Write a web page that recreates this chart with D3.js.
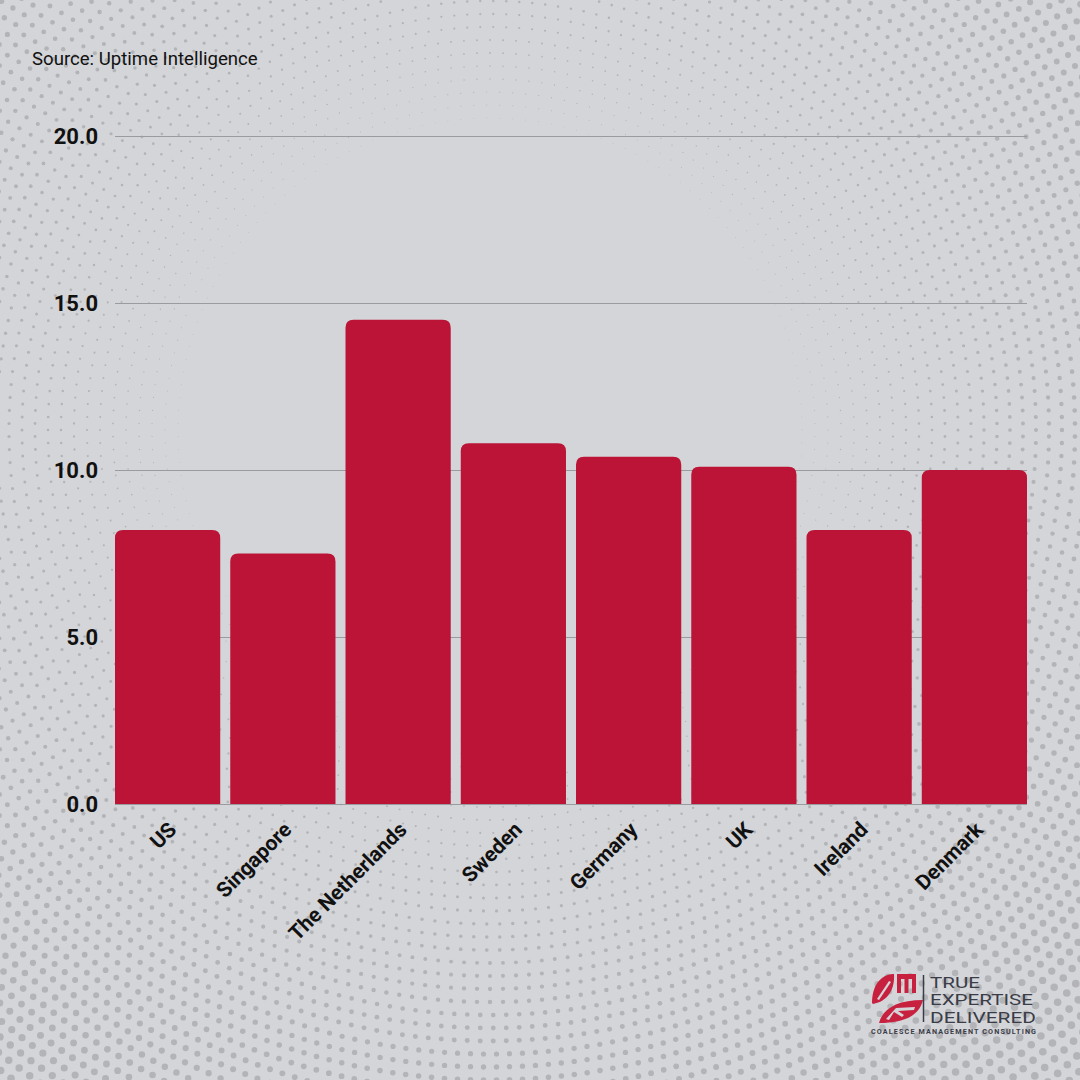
<!DOCTYPE html>
<html>
<head>
<meta charset="utf-8">
<script src="https://cdn.jsdelivr.net/npm/d3@7"></script>
<style>
  body { margin: 0; background: #d4d5d8; }
  text { font-family: Roboto, "Noto Sans", sans-serif; }
</style>
</head>
<body>
<div id="main"></div>
<script>
// data
var countries = ["US", "Singapore", "The Netherlands", "Sweden", "Germany", "UK", "Ireland", "Denmark"];
var values = [8.2, 7.5, 14.5, 10.8, 10.4, 10.1, 8.2, 10.0];
var yTicks = [0, 5, 10, 15, 20];

// dimensions
var svg_width = 1080,
    svg_height = 1080;
var plot = {left: 115, right: 1027, top: 136, bottom: 804};

var svg = d3.select("#main").append("svg")
    .attr("width", svg_width)
    .attr("height", svg_height);

svg.append("rect")
    .attr("width", svg_width).attr("height", svg_height)
    .attr("fill", "#d4d5d8");

/** halftone background: rings of dots growing toward the corners **/
var bg = svg.append("g").attr("fill", "#b3b4b7");
var cx = 490, cy = 430, step = 13;
for (var i = 1; i * step < 950; i++) {
    var R = i * step;
    var n = Math.round(2 * Math.PI * R / step);
    var off = (i % 2) * 0.5;
    for (var k = 0; k < n; k++) {
        var a = (k + off) / n * 2 * Math.PI;
        var x = cx + R * Math.cos(a), y = cy + R * Math.sin(a);
        if (x < -5 || x > svg_width + 5 || y < -5 || y > svg_height + 5) continue;
        var r = (R - 250) * 0.0069;
        if (r < 0.35) continue;
        bg.append("circle").attr("cx", x).attr("cy", y).attr("r", Math.min(r, 3.8));
    }
}

/** scales **/
var xScale = d3.scaleBand()
    .domain(countries)
    .range([plot.left, plot.right])
    .paddingInner(0.087)
    .paddingOuter(0);
var yScale = d3.scaleLinear()
    .domain([0, 20])
    .range([plot.bottom, plot.top]);

/** grid **/
svg.append("g").selectAll("line")
    .data(yTicks)
    .enter().append("line")
    .attr("x1", plot.left).attr("x2", plot.right)
    .attr("y1", function(d) { return yScale(d) + 0.5; })
    .attr("y2", function(d) { return yScale(d) + 0.5; })
    .attr("stroke", "#9a9b9f").attr("stroke-width", 1);

svg.append("g").selectAll("text")
    .data(yTicks)
    .enter().append("text")
    .attr("x", 98)
    .attr("y", function(d) { return yScale(d); })
    .attr("dy", "0.36em")
    .attr("text-anchor", "end")
    .attr("font-size", 22).attr("font-weight", 700).attr("fill", "#111")
    .text(function(d) { return d3.format(".1f")(d); });

/** bars with rounded tops **/
function topRounded(x, y, w, h, r) {
    return "M" + x + "," + (y + h) +
        "V" + (y + r) + "Q" + x + "," + y + " " + (x + r) + "," + y +
        "H" + (x + w - r) + "Q" + (x + w) + "," + y + " " + (x + w) + "," + (y + r) +
        "V" + (y + h) + "Z";
}
svg.append("g").selectAll("path")
    .data(countries)
    .enter().append("path")
    .attr("fill", "#bb1437")
    .attr("d", function(d, i) {
        var y = yScale(values[i]);
        return topRounded(xScale(d), y, xScale.bandwidth(), plot.bottom - y, 8);
    });

/** x labels **/
svg.append("g").selectAll("text")
    .data(countries)
    .enter().append("text")
    .attr("transform", function(d) {
        return "translate(" + (xScale(d) + xScale.bandwidth() / 2 + 10) + ",831) rotate(-45)";
    })
    .attr("text-anchor", "end")
    .attr("font-size", 21).attr("font-weight", 700).attr("fill", "#111")
    .text(function(d) { return d; });

/** source **/
svg.append("text")
    .attr("x", 32).attr("y", 65)
    .attr("font-size", 18.6).attr("fill", "#111")
    .text("Source: Uptime Intelligence");

/** logo **/
var logo = svg.append("g").attr("transform", "translate(870,974)");
var red = "#c8203f";
// "a" leaf
logo.append("path").attr("fill", red)
    .attr("d", "M2,29 C2,12 10,1 23,0 L24,0 C25,15 18,27 3,30 Z");
logo.append("path").attr("fill", "#d4d5d8")
    .attr("d", "M7,25 L19,7 L21,8 L9,26 Z");
// "m"
logo.append("path").attr("fill", red)
    .attr("d", "M27,0 H46 V19 H42 V5 H38.5 V19 H34.5 V5 H31 V19 H27 Z");
// "G" leaf
logo.append("path").attr("fill", red)
    .attr("d", "M9,49 C13,34 28,26 53,26 C49,42 34,49 9,49 Z");
logo.append("path").attr("fill", "#d4d5d8")
    .attr("d", "M16,45 L26,34 L45,33 L44,36 L28,37 L34,41 L32,43 L24,38 L19,46 Z");
logo.append("line")
    .attr("x1", 53.5).attr("x2", 53.5).attr("y1", 1).attr("y2", 48)
    .attr("stroke", "#3a3c47").attr("stroke-width", 1.5);
var logoLines = ["TRUE", "EXPERTISE", "DELIVERED"];
var logoWidths = [50, 103, 106];
logo.selectAll("text.tl")
    .data(logoLines)
    .enter().append("text")
    .attr("class", "tl")
    .attr("x", 60)
    .attr("y", function(d, i) { return 14 + i * 17.3; })
    .attr("font-size", 15).attr("fill", "#3a3c47")
    .attr("textLength", function(d, i) { return logoWidths[i]; })
    .attr("lengthAdjust", "spacingAndGlyphs")
    .text(function(d) { return d; });
logo.append("text")
    .attr("x", 1).attr("y", 60)
    .attr("font-size", 7.2).attr("font-weight", 700).attr("fill", "#3a3c47")
    .attr("textLength", 165).attr("lengthAdjust", "spacing")
    .text("COALESCE MANAGEMENT CONSULTING");
</script>
</body>
</html>
